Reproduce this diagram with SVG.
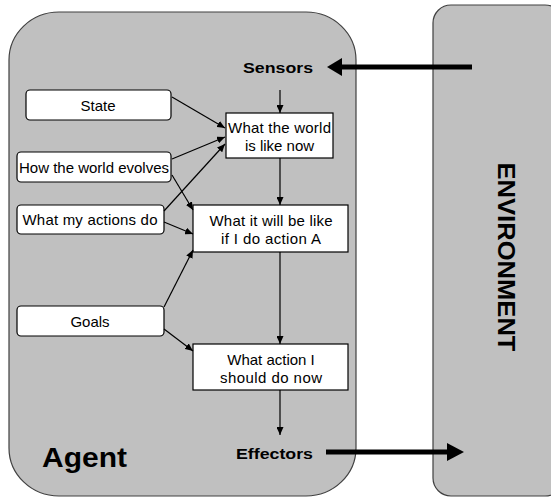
<svg xmlns="http://www.w3.org/2000/svg" width="551" height="497" viewBox="0 0 551 497">
<style>
.region{fill:#c0c0c0;stroke:#404040;stroke-width:1.2}
.box{fill:#fff;stroke:#000;stroke-width:1.2}
.t{font-family:"Liberation Sans",Arial,sans-serif;font-size:15px;fill:#000;text-anchor:middle}
.b{font-family:"Liberation Sans",Arial,sans-serif;font-weight:bold;fill:#000}
.c{stroke:#000;stroke-width:1.2;fill:none;marker-end:url(#ah)}
.thick{stroke:#000;stroke-width:5;fill:none}
</style>
<defs>
<marker id="ah" markerUnits="userSpaceOnUse" markerWidth="8" markerHeight="7" refX="8" refY="3.5" orient="auto">
<path d="M0,0 L8,3.5 L0,7 z" fill="#000"/>
</marker>
</defs>
<rect width="551" height="497" fill="#fff"/>
<g id="agent">
<rect class="region" x="9" y="12" width="347" height="484" rx="50" ry="48"/>
<text class="b" x="42" y="467" font-size="28" textLength="85" lengthAdjust="spacingAndGlyphs">Agent</text>
</g>
<g id="environment">
<rect class="region" x="433" y="5" width="130" height="491" rx="18" ry="18"/>
<text class="b" font-size="24" text-anchor="middle" transform="translate(498,257) rotate(90)" textLength="189" lengthAdjust="spacingAndGlyphs">ENVIRONMENT</text>
</g>
<g id="sensors">
<text class="b" x="243" y="73" font-size="15" textLength="70" lengthAdjust="spacingAndGlyphs">Sensors</text>
</g>
<g id="effectors">
<text class="b" x="236" y="459" font-size="15" textLength="77" lengthAdjust="spacingAndGlyphs">Effectors</text>
</g>
<g id="state">
<rect class="box" x="26" y="90" width="145" height="30" rx="4"/>
<text class="t" x="98" y="110.5">State</text>
</g>
<g id="evolves">
<rect class="box" x="17" y="152" width="154" height="30" rx="4"/>
<text class="t" x="94" y="172.5" textLength="150" lengthAdjust="spacing">How the world evolves</text>
</g>
<g id="actions">
<rect class="box" x="17" y="205" width="147" height="29" rx="4"/>
<text class="t" x="90" y="225" textLength="135" lengthAdjust="spacing">What my actions do</text>
</g>
<g id="goals">
<rect class="box" x="17" y="306" width="147" height="30" rx="4"/>
<text class="t" x="90" y="326.5">Goals</text>
</g>
<g id="world">
<rect class="box" x="226" y="113" width="107" height="45"/>
<text class="t" x="279.5" y="132.5" textLength="103" lengthAdjust="spacing">What the world</text>
<text class="t" x="279.5" y="150.5">is like now</text>
</g>
<g id="willbe">
<rect class="box" x="193" y="205" width="155" height="47"/>
<text class="t" x="271" y="225.5" textLength="123" lengthAdjust="spacing">What it will be like</text>
<text class="t" x="271" y="243.5" textLength="100" lengthAdjust="spacing">if I do action A</text>
</g>
<g id="action">
<rect class="box" x="193" y="344" width="155" height="46"/>
<text class="t" x="271" y="364.5">What action I</text>
<text class="t" x="271" y="382.5" textLength="102" lengthAdjust="spacing">should do now</text>
</g>
<g id="connectors">
<line class="c" x1="172" y1="97" x2="225" y2="128"/>
<line class="c" x1="172" y1="159" x2="225" y2="137"/>
<line class="c" x1="172" y1="175" x2="193" y2="210"/>
<line class="c" x1="164" y1="211" x2="225" y2="144"/>
<line class="c" x1="164" y1="222" x2="193" y2="234"/>
<line class="c" x1="164" y1="307" x2="193" y2="250"/>
<line class="c" x1="164" y1="329" x2="193" y2="351"/>
<line class="c" x1="280" y1="90" x2="280" y2="113"/>
<line class="c" x1="280" y1="158" x2="280" y2="205"/>
<line class="c" x1="280" y1="252" x2="280" y2="344"/>
<line class="c" x1="280" y1="390" x2="280" y2="435"/>
<line class="thick" x1="472" y1="67" x2="338" y2="67"/>
<path d="M327,67 L342,58 L342,76 z" fill="#000"/>
<line class="thick" x1="326" y1="452" x2="450" y2="452"/>
<path d="M464,452 L447,443 L447,461 z" fill="#000"/>
</g>
</svg>
